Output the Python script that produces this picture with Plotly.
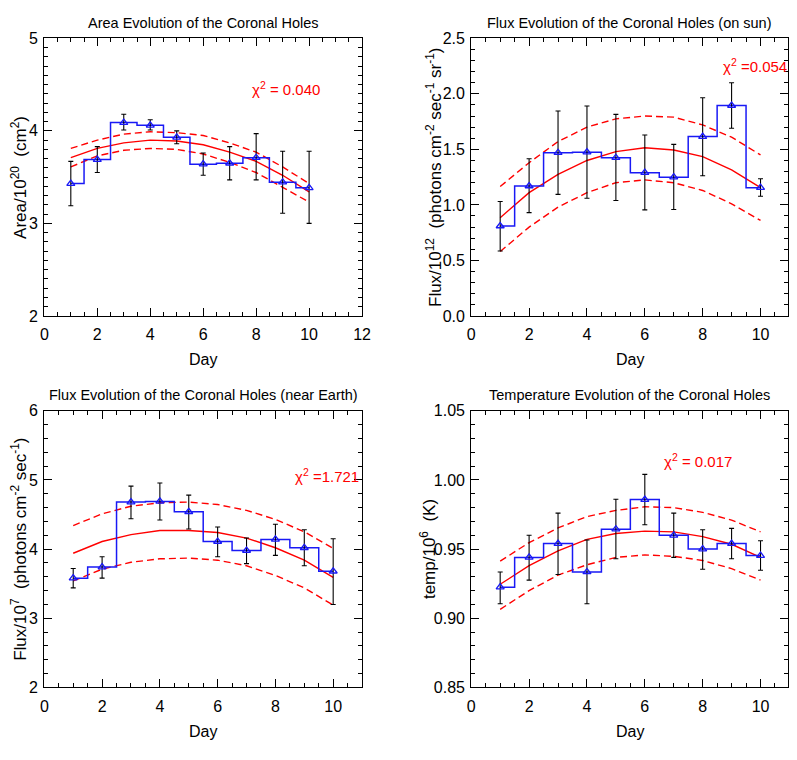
import plotly.graph_objects as go

days = [1, 2, 3, 4, 5, 6, 7, 8, 9, 10]

# Panel 1: Area
area = [3.43, 3.69, 4.09, 4.06, 3.93, 3.64, 3.65, 3.71, 3.445, 3.385]
area_hi = [3.67, 3.83, 4.18, 4.12, 4.00, 3.76, 3.83, 3.97, 3.78, 3.78]
area_lo = [3.19, 3.55, 4.01, 4.01, 3.86, 3.52, 3.47, 3.47, 3.11, 3.00]
area_fit = [3.71, 3.81, 3.87, 3.90, 3.89, 3.85, 3.77, 3.67, 3.52, 3.34]
area_fit_hi = [3.81, 3.90, 3.965, 3.99, 3.98, 3.95, 3.87, 3.77, 3.61, 3.43]
area_fit_lo = [3.61, 3.73, 3.79, 3.81, 3.80, 3.75, 3.66, 3.55, 3.39, 3.23]

# Panel 2: Flux on sun
sun = [0.81, 1.17, 1.47, 1.475, 1.425, 1.29, 1.25, 1.615, 1.895, 1.155]
sun_hi = [1.03, 1.415, 1.845, 1.89, 1.815, 1.63, 1.545, 1.965, 2.10, 1.235]
sun_lo = [0.585, 0.93, 1.095, 1.06, 1.04, 0.955, 0.958, 1.262, 1.69, 1.078]
sun_fit = [0.885, 1.11, 1.275, 1.40, 1.48, 1.515, 1.494, 1.435, 1.315, 1.155]
sun_fit_hi = [1.165, 1.38, 1.57, 1.70, 1.775, 1.80, 1.79, 1.72, 1.61, 1.45]
sun_fit_lo = [0.58, 0.80, 0.98, 1.11, 1.20, 1.225, 1.20, 1.13, 1.01, 0.86]

# Panel 3: Flux near Earth
earth = [3.58, 3.74, 4.68, 4.69, 4.54, 4.11, 3.98, 4.14, 4.02, 3.68]
earth_hi = [3.72, 3.89, 4.91, 4.955, 4.78, 4.32, 4.16, 4.36, 4.28, 4.15]
earth_lo = [3.44, 3.58, 4.44, 4.42, 4.29, 3.89, 3.79, 3.91, 3.76, 3.20]
earth_fit = [3.94, 4.11, 4.21, 4.27, 4.27, 4.24, 4.16, 4.02, 3.84, 3.59]
earth_fit_hi = [4.34, 4.51, 4.62, 4.67, 4.68, 4.645, 4.56, 4.43, 4.25, 4.01]
earth_fit_lo = [3.54, 3.71, 3.81, 3.86, 3.87, 3.84, 3.76, 3.62, 3.44, 3.19]

# Panel 4: Temperature
temp = [0.9225, 0.944, 0.954, 0.9335, 0.9644, 0.9858, 0.960, 0.950, 0.954, 0.9453]
temp_hi = [0.9335, 0.960, 0.976, 0.9566, 0.986, 1.004, 0.976, 0.964, 0.965, 0.956]
temp_lo = [0.9105, 0.9276, 0.9316, 0.9105, 0.943, 0.9676, 0.944, 0.9354, 0.943, 0.9347]
temp_fit = [0.9246, 0.938, 0.9488, 0.957, 0.9613, 0.963, 0.9625, 0.959, 0.9535, 0.944]
temp_fit_hi = [0.9413, 0.9547, 0.9653, 0.9735, 0.978, 0.9806, 0.980, 0.9766, 0.971, 0.9625]
temp_fit_lo = [0.9065, 0.920, 0.9312, 0.9387, 0.944, 0.9458, 0.9448, 0.9418, 0.9359, 0.9276]

titles = ["Area Evolution of the Coronal Holes",
          "Flux Evolution of the Coronal Holes (on sun)",
          "Flux Evolution of the Coronal Holes (near Earth)",
          "Temperature Evolution of the Coronal Holes"]
ytitles = ["Area/10<sup>20</sup>  (cm<sup>2</sup>)",
           "Flux/10<sup>12</sup>  (photons cm<sup>-2</sup> sec<sup>-1</sup> sr<sup>-1</sup>)",
           "Flux/10<sup>7</sup>  (photons cm<sup>-2</sup> sec<sup>-1</sup>)",
           "temp/10<sup>6</sup>  (K)"]
chis = ["χ<sup>2</sup> = 0.040", "χ<sup>2</sup> =0.054", "χ<sup>2</sup> =1.721", "χ<sup>2</sup> = 0.017"]

W, H = 797, 760
FONT = "Liberation Sans, Arial, Helvetica, sans-serif"


def f(size, color="black"):
    return dict(family=FONT, size=size, color=color)


# pixel boxes (left, right, top, bottom)
boxes = [(41, 364, 31, 315), (475, 797, 31, 315), (41, 364, 412, 695), (475, 797, 412, 695)]
xranges = [[0, 12], [0, 10.95], [0, 11], [0, 10.95]]
yranges = [[2, 5], [0, 2.5], [2, 6], [0.85, 1.05]]
ydticks = [1, 0.5, 1, 0.05]
yminor = [0.1, 0.1, 0.2, 0.01]
yfmt = ["d", ".1f", "d", ".2f"]
ytitle_x = [15, 437, 15, 431]
chi_pos = [(287, 82), (763, 59), (328, 478), (706, 463)]

series = [
    (area, area_hi, area_lo, area_fit, area_fit_hi, area_fit_lo),
    (sun, sun_hi, sun_lo, sun_fit, sun_fit_hi, sun_fit_lo),
    (earth, earth_hi, earth_lo, earth_fit, earth_fit_hi, earth_fit_lo),
    (temp, temp_hi, temp_lo, temp_fit, temp_fit_hi, temp_fit_lo),
]

fig = go.Figure()
layout = dict(width=W, height=H, margin=dict(l=0, r=0, t=0, b=0),
              paper_bgcolor="white", plot_bgcolor="white", showlegend=False)
annotations = []

for i, (vals, hi, lo, fit, fhi, flo) in enumerate(series):
    n = "" if i == 0 else str(i + 1)
    xa, ya = "x" + n, "y" + n
    l, r, t, b = boxes[i]
    xd = [l / W, min(r / W, 1.0)]
    yd = [1 - b / H, 1 - t / H]
    for fv, dash in ((fhi, "7px,4px"), (flo, "7px,4px"), (fit, "solid")):
        fig.add_trace(go.Scatter(x=days, y=fv, mode="lines", xaxis=xa, yaxis=ya,
                                 line=dict(color="rgb(255,0,0)", width=1.4, dash=dash)))
    fig.add_trace(go.Scatter(x=days, y=vals, mode="lines", xaxis=xa, yaxis=ya,
                             line=dict(color="rgb(25,25,245)", width=1.5, shape="hvh")))
    fig.add_trace(go.Scatter(
        x=days, y=vals, mode="markers", xaxis=xa, yaxis=ya,
        marker=dict(symbol="triangle-up-open", size=7, color="rgb(25,25,245)",
                    line=dict(width=1.3, color="rgb(25,25,245)")),
        error_y=dict(type="data", symmetric=False,
                     array=[h - v for h, v in zip(hi, vals)],
                     arrayminus=[v - lw for v, lw in zip(vals, lo)],
                     color="black", thickness=1.1, width=2.5)))
    axis_common = dict(showgrid=False, zeroline=False, showline=True, linecolor="black",
                       linewidth=1.2, mirror="allticks", ticks="inside", ticklen=8,
                       tickwidth=1, tickcolor="black", tickfont=f(16))
    layout["xaxis" + n] = dict(axis_common, domain=xd, range=xranges[i], dtick=2, tick0=0,
                               anchor=ya, ticklabelstandoff=4,
                               minor=dict(dtick=0.5, ticks="inside", ticklen=4,
                                          tickcolor="black", tickwidth=1))
    layout["yaxis" + n] = dict(axis_common, domain=yd, range=yranges[i], dtick=ydticks[i],
                               tick0=yranges[i][0], tickformat=yfmt[i], anchor=xa,
                               ticklabelstandoff=2,
                               minor=dict(dtick=yminor[i], ticks="inside", ticklen=4,
                                          tickcolor="black", tickwidth=1))
    cx = (l + min(r, 798)) / 2
    annotations.append(dict(text=titles[i], x=cx / W, y=1 - (t - 16) / H, xref="paper",
                            yref="paper", xanchor="center", yanchor="middle",
                            showarrow=False, font=f(14.5)))
    annotations.append(dict(text="Day", x=cx / W, y=1 - (b + 45) / H, xref="paper",
                            yref="paper", xanchor="center", yanchor="middle",
                            showarrow=False, font=f(16)))
    annotations.append(dict(text=ytitles[i], x=ytitle_x[i] / W, y=1 - ((t + b) / 2) / H,
                            xref="paper", yref="paper", xanchor="center", yanchor="middle",
                            textangle=-90, showarrow=False, font=f(17)))
    cxp, cyp = chi_pos[i]
    annotations.append(dict(text=chis[i], x=cxp / W, y=1 - cyp / H, xref="paper",
                            yref="paper", xanchor="center", yanchor="middle",
                            showarrow=False, font=f(15, "rgb(255,0,0)")))

layout["annotations"] = annotations
fig.update_layout(**layout)
fig.write_html("out.html")
